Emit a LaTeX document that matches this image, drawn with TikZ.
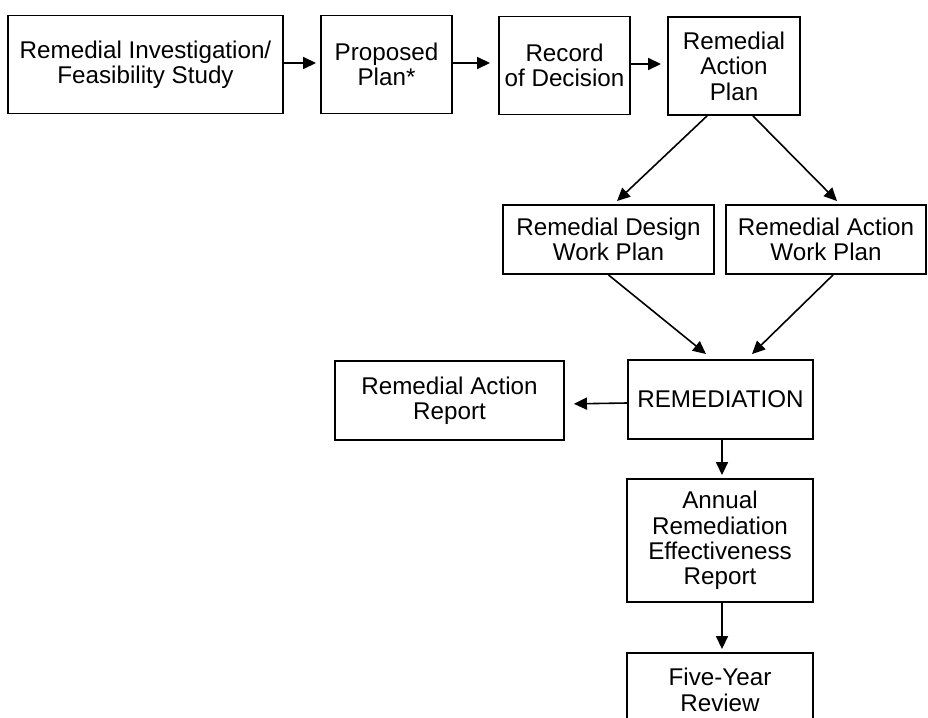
\documentclass[tikz,border=0pt]{standalone}
\usepackage{fontspec}
\setmainfont{Liberation Sans}
\usetikzlibrary{arrows.meta}
\begin{document}
\begin{tikzpicture}[x=1pt,y=-1pt,
  box/.style={draw, line width=1.9pt, align=center, inner sep=0pt,
    font=\fontsize{24.2}{25.4}\selectfont},
  arr/.style={line width=1.6pt, -{Triangle[length=13pt,width=12pt]}}]
\clip (0,0) rectangle (928,717);
\fill[white] (0,0) rectangle (928,717);
% top row
\node[box, minimum width=275pt, minimum height=98pt] (b1) at (145.5,64.5) {Remedial Investigation/\\Feasibility Study};
\node[box, minimum width=131pt, minimum height=98pt] (b2) at (386.5,64.5) {Proposed\\Plan*};
\node[box, minimum width=131pt, minimum height=98pt] (b3) at (564.5,65.5) {Record\\of Decision};
\node[box, minimum width=132pt, minimum height=98pt] (b4) at (734,66) {Remedial\\Action\\Plan};
% work plans
\node[box, minimum width=211pt, minimum height=69pt] (b5) at (608.5,239.5) {Remedial Design\\Work Plan};
\node[box, minimum width=200pt, minimum height=69pt] (b6) at (826,239.5) {Remedial Action\\Work Plan};
% remediation
\node[box, minimum width=185pt, minimum height=79pt] (b7) at (720.5,399.5) {REMEDIATION};
\node[box, minimum width=229pt, minimum height=79pt] (b8) at (449.5,400.5) {Remedial Action\\Report};
\node[box, minimum width=186pt, minimum height=123pt] (b9) at (720,540.5) {Annual\\Remediation\\Effectiveness\\Report};
\node[box, minimum width=186pt, minimum height=74pt] (b10) at (720,690) {Five-Year\\Review};
% connectors
\draw[arr, shorten >=4pt] (b1.east |- 0,63) -- (b2.west |- 0,63);
\draw[arr, shorten >=8pt] (b2.east |- 0,63) -- (b3.west |- 0,63);
\draw[arr, shorten >=6pt] (b3.east |- 0,64) -- (b4.west |- 0,64);
\draw[arr] ([xshift=-27pt]b4.south) -- ([xshift=8.5pt,yshift=3pt]b5.north);
\draw[arr] ([xshift=19pt]b4.south) -- ([xshift=11pt,yshift=3pt]b6.north);
\draw[arr] (b5.south) -- ([xshift=-14.5pt,yshift=5pt]b7.north);
\draw[arr] ([xshift=7pt]b6.south) -- ([xshift=31.5pt,yshift=5pt]b7.north);
\draw[arr, shorten >=9pt] ([yshift=-3.5pt]b7.west) -- ([yshift=-3.5pt]b8.east);
\draw[arr, shorten >=3pt] ([xshift=1.5pt]b7.south) -- ([xshift=2pt]b9.north);
\draw[arr, shorten >=3pt] ([xshift=2pt]b9.south) -- ([xshift=2pt]b10.north);
\end{tikzpicture}
\end{document}
